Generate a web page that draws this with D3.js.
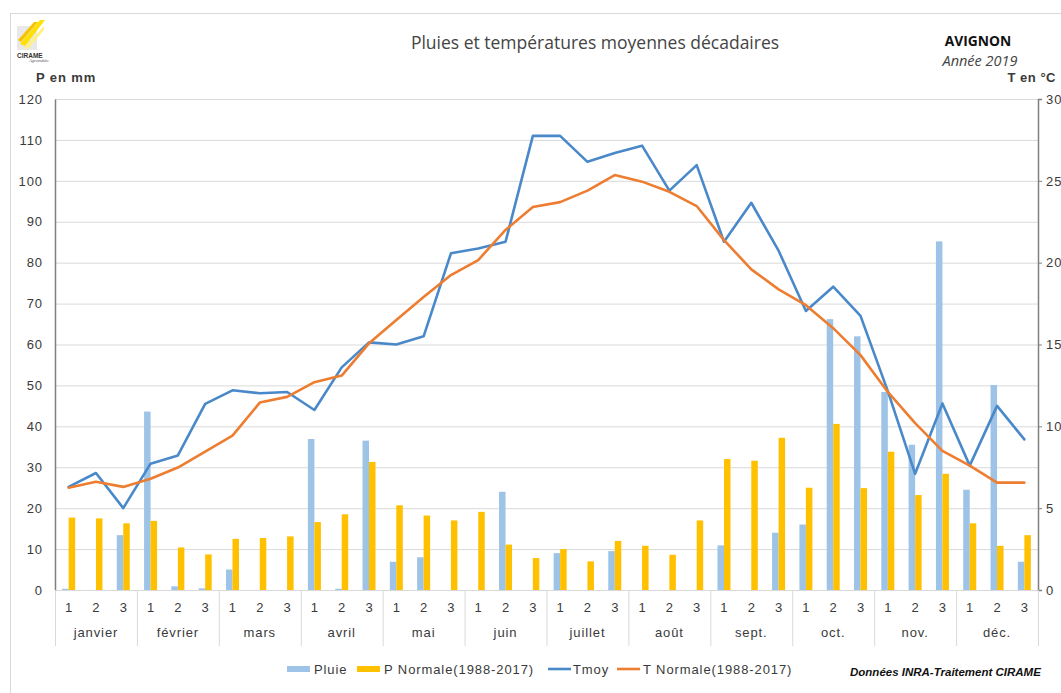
<!DOCTYPE html>
<html><head><meta charset="utf-8">
<script src="https://cdn.jsdelivr.net/npm/d3@7"></script>
<style>body{margin:0;background:#fff}svg{display:block}</style>
</head><body>
<svg id="c" width="1061" height="693"></svg>
<script>
const months = ["janvier","février","mars","avril","mai","juin","juillet","août","sept.","oct.","nov.","déc."];
const decadeLabels = ["1","2","3"];
const pluie = [0.3,0,13.4, 43.6,0.9,0.4, 5.0,0,0, 36.9,0.3,36.5, 6.9,8.0,0, 0,24.0,0, 9.0,0,9.5, 0,0,0, 10.9,0,14.0, 16.0,66.2,62.0, 48.4,35.5,85.2, 24.5,50.1,6.9];
const pNormale = [17.7,17.5,16.3, 16.9,10.4,8.7, 12.5,12.7,13.1, 16.6,18.5,31.3, 20.7,18.2,17.0, 19.1,11.1,7.8, 10.0,7.0,12.0, 10.8,8.6,17.0, 32.0,31.6,37.2, 25.0,40.6,24.9, 33.8,23.2,28.4, 16.3,10.8,13.4];
const tmoy = [6.3,7.15,5.0, 7.72,8.22,11.37, 12.2,12.02,12.1, 11.0,13.6,15.13, 15.0,15.5,20.57, 20.87,21.28,27.75, 27.75,26.16,26.7, 27.15,24.4,25.96, 21.28,23.66,20.73, 17.05,18.53,16.75, 12.15,7.1,11.4, 7.6,11.25,9.2];
const tNormale = [6.25,6.62,6.3, 6.8,7.48,8.45, 9.43,11.45,11.8, 12.7,13.1,15.07, 16.5,17.9,19.24, 20.16,22.0,23.4, 23.7,24.4,25.35, 24.95,24.33,23.46, 21.38,19.59,18.37, 17.4,16.0,14.35, 12.1,10.2,8.5, 7.6,6.56,6.56];
const pTicks = [0,10,20,30,40,50,60,70,80,90,100,110,120];
const tTicks = [0,5,10,15,20,25,30];

const C = {pluie:"#9DC3E6", pn:"#FFC000", tmoy:"#4A89C9", tn:"#ED7D31", text:"#3A3A3A", grid:"#D9D9D9", axis:"#808080"};
const L = 55, R = 1038, T = 99, B = 590;
const svg = d3.select("#c");
const font = "'Liberation Sans', Arial, sans-serif";
const FS = 13, LS = 0.9;

// chart border
svg.append("rect").attr("x",10.5).attr("y",13.5).attr("width",1200).attr("height",800)
  .attr("fill","none").attr("stroke","#D9D9D9");

const idx = d3.range(36);
const x = d3.scaleBand().domain(idx).range([L, R]).padding(0);
const bw = x.bandwidth();
const xs = d3.scaleBand().domain(["pluie","pn"]).range([bw/2 - 6.5, bw/2 + 6.5]).padding(0);
const yP = d3.scaleLinear().domain([0,120]).range([B, T]);
const yT = d3.scaleLinear().domain([0,30]).range([B, T]);

// gridlines
svg.append("g").selectAll("line").data(pTicks).join("line")
  .attr("x1",L).attr("x2",R).attr("y1",d=>yP(d)+0.5).attr("y2",d=>yP(d)+0.5)
  .attr("stroke",C.grid).attr("stroke-width",1);

// left axis
const gl = svg.append("g").attr("transform",`translate(${L},0)`)
  .call(d3.axisLeft(yP).tickValues(pTicks).tickSize(0).tickPadding(12));
gl.select(".domain").attr("stroke",C.axis).attr("stroke-width",1.5);
gl.selectAll("text").attr("font-family",font).attr("font-size",FS).attr("letter-spacing",LS).attr("fill",C.text);

// right axis
const gr = svg.append("g").attr("transform",`translate(${R},0)`)
  .call(d3.axisRight(yT).tickValues(tTicks).tickSize(4).tickPadding(4));
gr.select(".domain").attr("stroke",C.axis).attr("stroke-width",1.5);
gr.selectAll(".tick line").attr("stroke",C.axis);
gr.selectAll("text").attr("font-family",font).attr("font-size",FS).attr("letter-spacing",LS).attr("fill",C.text);

// bars
const gb = svg.append("g");
gb.selectAll("rect.p").data(idx).join("rect").attr("class","p")
  .attr("x",i=>x(i)+xs("pluie")).attr("width",xs.bandwidth())
  .attr("y",i=>yP(pluie[i])).attr("height",i=>B - yP(pluie[i])).attr("fill",C.pluie);
gb.selectAll("rect.n").data(idx).join("rect").attr("class","n")
  .attr("x",i=>x(i)+xs("pn")).attr("width",xs.bandwidth())
  .attr("y",i=>yP(pNormale[i])).attr("height",i=>B - yP(pNormale[i])).attr("fill",C.pn);

// lines
const line = arr => d3.line().x(i=>x(i)+bw/2).y(i=>yT(arr[i]))(idx);
svg.append("path").attr("d",line(tmoy)).attr("fill","none").attr("stroke",C.tmoy)
  .attr("stroke-width",2.6).attr("stroke-linejoin","round").attr("stroke-linecap","round");
svg.append("path").attr("d",line(tNormale)).attr("fill","none").attr("stroke",C.tn)
  .attr("stroke-width",2.6).attr("stroke-linejoin","round").attr("stroke-linecap","round");

// x axis: decade labels, month labels, separators
const gx = svg.append("g");
gx.selectAll("text.d").data(idx).join("text").attr("class","d")
  .attr("x",i=>x(i)+bw/2).attr("y",612).attr("text-anchor","middle")
  .attr("font-family",font).attr("font-size",FS).attr("fill",C.text)
  .text(i=>decadeLabels[i%3]);
const mx = d3.scaleBand().domain(months).range([L, R]).padding(0);
gx.selectAll("text.m").data(months).join("text").attr("class","m")
  .attr("x",m=>mx(m)+mx.bandwidth()/2).attr("y",637).attr("text-anchor","middle")
  .attr("font-family",font).attr("font-size",FS).attr("letter-spacing",LS).attr("fill",C.text).text(m=>m);
gx.selectAll("line.s").data(d3.range(13)).join("line").attr("class","s")
  .attr("x1",k=>L + k*mx.bandwidth()+0.5).attr("x2",k=>L + k*mx.bandwidth()+0.5)
  .attr("y1",B).attr("y2",646).attr("stroke",C.grid);

// titles
svg.append("text").attr("x",595).attr("y",49).attr("text-anchor","middle")
  .attr("font-family","'Open Sans', sans-serif").attr("font-size",17.5).attr("fill","#444")
  .text("Pluies et températures moyennes décadaires");
svg.append("text").attr("x",978).attr("y",46).attr("text-anchor","middle")
  .attr("font-family","'Open Sans', sans-serif").attr("font-weight","bold").attr("font-size",13.8).attr("fill","#111")
  .text("AVIGNON");
svg.append("text").attr("x",980).attr("y",66).attr("text-anchor","middle")
  .attr("font-family","'Open Sans', sans-serif").attr("font-style","italic").attr("font-size",14.5).attr("fill","#444")
  .text("Année 2019");
svg.append("text").attr("x",36).attr("y",82).attr("letter-spacing",LS)
  .attr("font-family",font).attr("font-weight","bold").attr("font-size",FS).attr("fill",C.text).text("P en mm");
svg.append("text").attr("x",1056).attr("y",82).attr("text-anchor","end").attr("letter-spacing",0.5)
  .attr("font-family",font).attr("font-weight","bold").attr("font-size",FS).attr("fill",C.text).text("T en °C");

// logo
const lg = svg.append("g");
lg.append("rect").attr("x",17).attr("y",26).attr("width",20).attr("height",24).attr("fill","#E8E8E8");
lg.append("polygon").attr("points","20,44 40,20 45,20 25,46").attr("fill","#FFE000");
lg.append("polygon").attr("points","18,40 34,22 38,22 21,42").attr("fill","#F5C400");
lg.append("polygon").attr("points","24,48 44,26 44,30 28,49").attr("fill","#FFF080");
lg.append("text").attr("x",17).attr("y",58).attr("font-family",font).attr("font-weight","bold")
  .attr("font-size",6.5).attr("fill","#333").text("CIRAME");
lg.append("text").attr("x",29).attr("y",62).attr("font-family","serif").attr("font-style","italic")
  .attr("font-size",4.5).attr("fill","#555").text("Agrométéo");

// legend
const lgd = svg.append("g").attr("font-family",font).attr("font-size",FS).attr("letter-spacing",LS).attr("fill",C.text);
lgd.append("rect").attr("x",287).attr("y",666).attr("width",23).attr("height",6).attr("fill",C.pluie);
lgd.append("text").attr("x",314).attr("y",674).text("Pluie");
lgd.append("rect").attr("x",357).attr("y",666).attr("width",23).attr("height",6).attr("fill",C.pn);
lgd.append("text").attr("x",384).attr("y",674).text("P Normale(1988-2017)");
lgd.append("line").attr("x1",548).attr("x2",571).attr("y1",669).attr("y2",669).attr("stroke",C.tmoy).attr("stroke-width",2.6);
lgd.append("text").attr("x",573).attr("y",674).text("Tmoy");
lgd.append("line").attr("x1",617).attr("x2",640).attr("y1",669).attr("y2",669).attr("stroke",C.tn).attr("stroke-width",2.6);
lgd.append("text").attr("x",643).attr("y",674).text("T Normale(1988-2017)");

svg.append("text").attr("x",850).attr("y",676).attr("font-family",font).attr("font-weight","bold")
  .attr("font-style","italic").attr("font-size",11.5).attr("fill","#111").text("Données INRA-Traitement CIRAME");
</script>
</body></html>
